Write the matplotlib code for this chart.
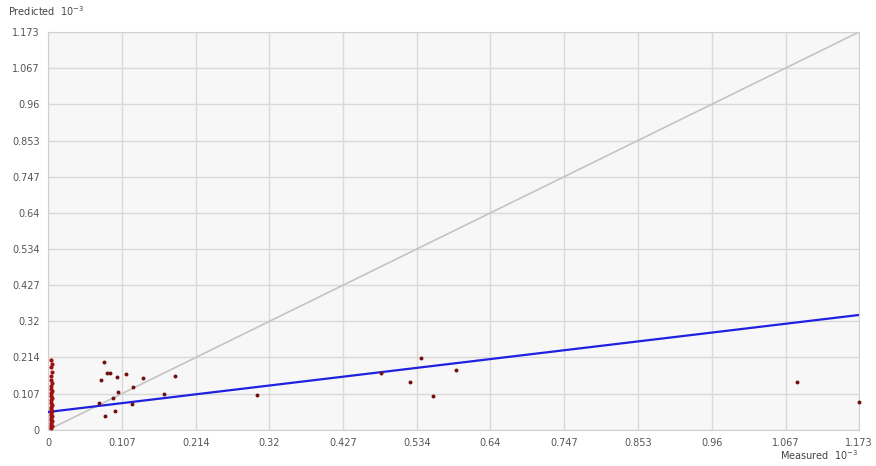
import numpy as np
import matplotlib
matplotlib.use("Agg")
from matplotlib import pyplot as plt

# axis ticks (units of 1e-3)
ticks = [0, 0.107, 0.214, 0.32, 0.427, 0.534, 0.64, 0.747, 0.853, 0.96, 1.067, 1.173]
tick_labels = ["0", "0.107", "0.214", "0.32", "0.427", "0.534", "0.64", "0.747",
               "0.853", "0.96", "1.067", "1.173"]

# samples near zero measured value
cluster_x = [0.005, 0.006, 0.004, 0.006, 0.005, 0.004, 0.006, 0.005, 0.004, 0.006,
             0.005, 0.004, 0.006, 0.005, 0.004, 0.006, 0.005, 0.004, 0.006, 0.005,
             0.004, 0.006, 0.005, 0.004, 0.006, 0.005, 0.004, 0.006, 0.005, 0.004]
cluster_y = [0.205, 0.195, 0.185, 0.172, 0.160, 0.148, 0.138, 0.130, 0.122, 0.115,
             0.108, 0.100, 0.093, 0.087, 0.080, 0.074, 0.068, 0.062, 0.056, 0.050,
             0.045, 0.040, 0.035, 0.030, 0.025, 0.020, 0.016, 0.012, 0.008, 0.005]

# remaining samples
measured = [0.081, 0.086, 0.090, 0.077, 0.100, 0.113, 0.138, 0.184, 0.101, 0.123,
            0.094, 0.074, 0.121, 0.168, 0.083, 0.097, 0.302, 0.481, 0.539, 0.523,
            0.557, 0.590, 1.083, 1.173]
predicted = [0.200, 0.167, 0.169, 0.147, 0.156, 0.165, 0.153, 0.159, 0.112, 0.127,
             0.094, 0.080, 0.077, 0.106, 0.041, 0.056, 0.103, 0.168, 0.211, 0.141,
             0.100, 0.177, 0.142, 0.082]

# regression line end points
fit_x = [0, 1.173]
fit_y = [0.053, 0.339]

fig = plt.figure(figsize=(8.76, 4.66), dpi=100)
ax = fig.add_axes([0.0548, 0.0773, 0.9258, 0.854])
ax.set_facecolor("#f7f7f7")

ax.set_xlim(0, 1.173)
ax.set_ylim(0, 1.173)
ax.set_xticks(ticks)
ax.set_yticks(ticks)
ax.set_xticklabels(tick_labels)
ax.set_yticklabels(tick_labels)
ax.tick_params(length=0, labelsize=7, colors="#555555", pad=6)
ax.grid(True, color="#d9d9d9", linewidth=1.0)
ax.set_axisbelow(True)
for sp in ax.spines.values():
    sp.set_color("#d0d0d0")

# identity line and regression line
ax.plot([0, 1.173], [0, 1.173], color="#c4c4c4", linewidth=1.2, zorder=2)
ax.plot(fit_x, fit_y, color="#2020e0", linewidth=1.6, zorder=3)

ax.scatter(cluster_x, cluster_y, s=9, color="#a01010", zorder=4, linewidths=0)
ax.scatter(measured, predicted, s=8, color="#701010", zorder=4, linewidths=0,
           clip_on=False)

fig.text(0.009, 0.965, r"Predicted  $10^{-3}$", fontsize=7, color="#444444")
fig.text(0.98, 0.012, r"Measured  $10^{-3}$", fontsize=7, color="#444444", ha="right")

fig.savefig("out.png", dpi=100)
